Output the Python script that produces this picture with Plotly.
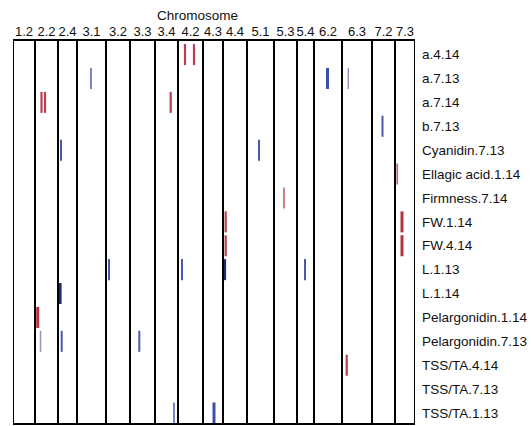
import plotly.graph_objects as go
import numpy as np

# ---------------- data ----------------
chromosomes = ["1.2", "2.2", "2.4", "3.1", "3.2", "3.3", "3.4", "4.2", "4.3",
               "4.4", "5.1", "5.3", "5.4", "6.2", "6.3", "7.2", "7.3"]
chrom_length = [22, 23, 19, 29, 24, 25, 23, 25, 20, 24, 27, 23, 17, 28, 30, 23, 20]

traits = ["a.4.14", "a.7.13", "a.7.14", "b.7.13", "Cyanidin.7.13", "Ellagic acid.1.14",
          "Firmness.7.14", "FW.1.14", "FW.4.14", "L.1.13", "L.1.14", "Pelargonidin.1.14",
          "Pelargonidin.7.13", "TSS/TA.4.14", "TSS/TA.7.13", "TSS/TA.1.13"]

# QTL: trait, chromosome, position within chromosome, effect sign, strength
qtl_trait = ["a.4.14", "a.4.14", "a.7.13", "a.7.13", "a.7.13", "a.7.14", "a.7.14", "a.7.14",
             "b.7.13", "Cyanidin.7.13", "Cyanidin.7.13", "Ellagic acid.1.14", "Firmness.7.14",
             "FW.1.14", "FW.1.14", "FW.4.14", "FW.4.14", "L.1.13", "L.1.13", "L.1.13", "L.1.13",
             "L.1.14", "Pelargonidin.1.14", "Pelargonidin.7.13", "Pelargonidin.7.13",
             "Pelargonidin.7.13", "TSS/TA.4.14", "TSS/TA.1.13", "TSS/TA.1.13"]
qtl_chrom = ["4.2", "4.2", "3.1", "6.2", "6.3", "2.2", "2.2", "3.4",
             "7.2", "2.4", "5.1", "7.3", "5.3",
             "4.4", "7.3", "4.4", "7.3", "3.2", "4.2", "4.4", "5.4",
             "2.4", "2.2", "2.2", "2.4",
             "3.3", "6.3", "3.4", "4.3"]
qtl_pos = [7, 16, 14, 13.5, 6.3, 6.5, 10, 15.7,
           10.5, 3, 12, 2.3, 10,
           2.7, 7, 2.7, 7, 3, 4, 1.5, 8,
           2, 2.7, 5.5, 3.7,
           9.3, 4.7, 19, 11]
qtl_effect = ["+", "+", "-", "-", "-", "+", "+", "+",
              "-", "-", "-", "+", "+",
              "+", "+", "+", "+", "-", "-", "-", "-",
              "-", "+", "-", "-",
              "-", "+", "-", "-"]
qtl_strength = [2, 2, 1.5, 2.5, 1, 2, 2, 2,
                2, 2, 2, 1.5, 1.5,
                2, 2.5, 2, 2.5, 2, 2, 3, 2,
                3, 2.5, 1, 2,
                2, 2, 1.5, 2.5]

# ---------------- layout helpers ----------------
starts = np.concatenate([[0], np.cumsum(chrom_length)[:-1]])
bounds = np.concatenate([[0], np.cumsum(chrom_length)])
centers = starts + np.array(chrom_length) / 2
chrom_start = dict(zip(chromosomes, starts))
row_of = {t: i for i, t in enumerate(traits)}

style = {
    ("+", 1): ("#c98a93", 1.5), ("+", 1.5): ("#c0606c", 1.6), ("+", 2): ("#b8404f", 2.2),
    ("+", 2.5): ("#b8303f", 3.0), ("+", 3): ("#a82030", 3.2),
    ("-", 1): ("#9096bf", 1.5), ("-", 1.5): ("#5a67b0", 1.6), ("-", 2): ("#4a58ad", 2.0),
    ("-", 2.5): ("#3f4ea8", 3.0), ("-", 3): ("#1e2a78", 3.2),
}

fig = go.Figure()
half = 0.44
for t, c, p, e, s in zip(qtl_trait, qtl_chrom, qtl_pos, qtl_effect, qtl_strength):
    col, w = style[(e, s)]
    x = chrom_start[c] + p
    r = row_of[t]
    fig.add_trace(go.Scatter(x=[x, x], y=[r - half, r + half], mode="lines",
                             line=dict(color=col, width=w), hoverinfo="skip",
                             showlegend=False))

shapes = []
for b in bounds:
    shapes.append(dict(type="line", xref="x", yref="paper", x0=b, x1=b, y0=0, y1=1,
                       line=dict(color="black", width=2)))
for yy in (0, 1):
    shapes.append(dict(type="line", xref="paper", yref="paper", x0=0, x1=1, y0=yy, y1=yy,
                       line=dict(color="black", width=2)))

font_family = "Liberation Sans, Arial, sans-serif"
fig.update_layout(
    width=531, height=426,
    margin=dict(l=13, r=116, t=40, b=2),
    paper_bgcolor="white", plot_bgcolor="white",
    font=dict(family=font_family, color="#111", size=13),
    shapes=shapes,
    xaxis=dict(range=[0, bounds[-1]], side="top", tickvals=list(centers),
               ticktext=chromosomes, showgrid=False, zeroline=False, ticks="",
               tickangle=0, tickfont=dict(size=13), ticklabelstandoff=0, fixedrange=True),
    yaxis=dict(range=[15.46, -0.61], side="right", tickvals=list(range(len(traits))),
               ticktext=traits, showgrid=False, zeroline=False, ticks="",
               tickfont=dict(size=13.5), ticklabelstandoff=6, fixedrange=True),
    annotations=[dict(text="Chromosome", xref="paper", yref="paper", x=0.458, y=1.065,
                      xanchor="center", yanchor="middle", showarrow=False,
                      font=dict(size=13.5))],
)

fig.write_html("out.html")
